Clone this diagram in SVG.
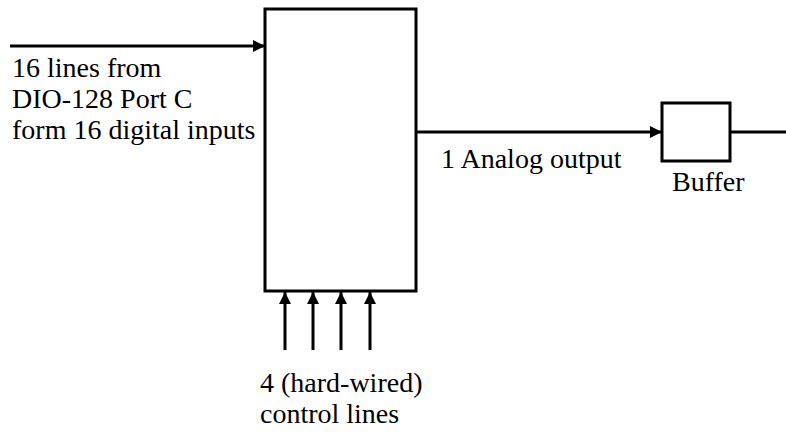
<svg xmlns="http://www.w3.org/2000/svg" width="786" height="432" viewBox="0 0 786 432">
<style>
.b{fill:#fff;stroke:#000;stroke-width:3}
.l{stroke:#000;stroke-width:3;fill:none}
</style>
<defs>
<marker id="a" viewBox="0 0 10 10" refX="10" refY="5" markerWidth="4" markerHeight="4" orient="auto" markerUnits="strokeWidth">
<path d="M0,0L10,5L0,10z" fill="#000"/>
</marker>
</defs>
<rect width="786" height="432" fill="#fff"/>
<g id="main"><rect class="b" x="265" y="9" width="151" height="282"/></g>
<g id="buffer" font-family="Liberation Serif, Times New Roman, Tinos, DejaVu Serif, serif" font-size="28"><rect class="b" x="662" y="103" width="68" height="58"/><text x="672" y="191">Buffer</text></g>
<g id="connectors">
<line class="l" x1="10" y1="46" x2="265" y2="46" marker-end="url(#a)"/>
<line class="l" x1="416" y1="132" x2="662" y2="132" marker-end="url(#a)"/>
<line class="l" x1="730" y1="132" x2="786" y2="132"/>
<line class="l" x1="285" y1="350" x2="285" y2="292" marker-end="url(#a)"/>
<line class="l" x1="313" y1="350" x2="313" y2="292" marker-end="url(#a)"/>
<line class="l" x1="341" y1="350" x2="341" y2="292" marker-end="url(#a)"/>
<line class="l" x1="370" y1="350" x2="370" y2="292" marker-end="url(#a)"/>
</g>
<g id="labels" font-family="Liberation Serif, Times New Roman, Tinos, DejaVu Serif, serif" font-size="28" fill="#000">
<text x="12" y="77">16 lines from</text>
<text x="12" y="108">DIO-128 Port C</text>
<text x="12" y="139">form 16 digital inputs</text>
<text x="441" y="168">1 Analog output</text>
<text x="260" y="392">4 (hard-wired)</text>
<text x="260" y="423">control lines</text>
</g>
</svg>
